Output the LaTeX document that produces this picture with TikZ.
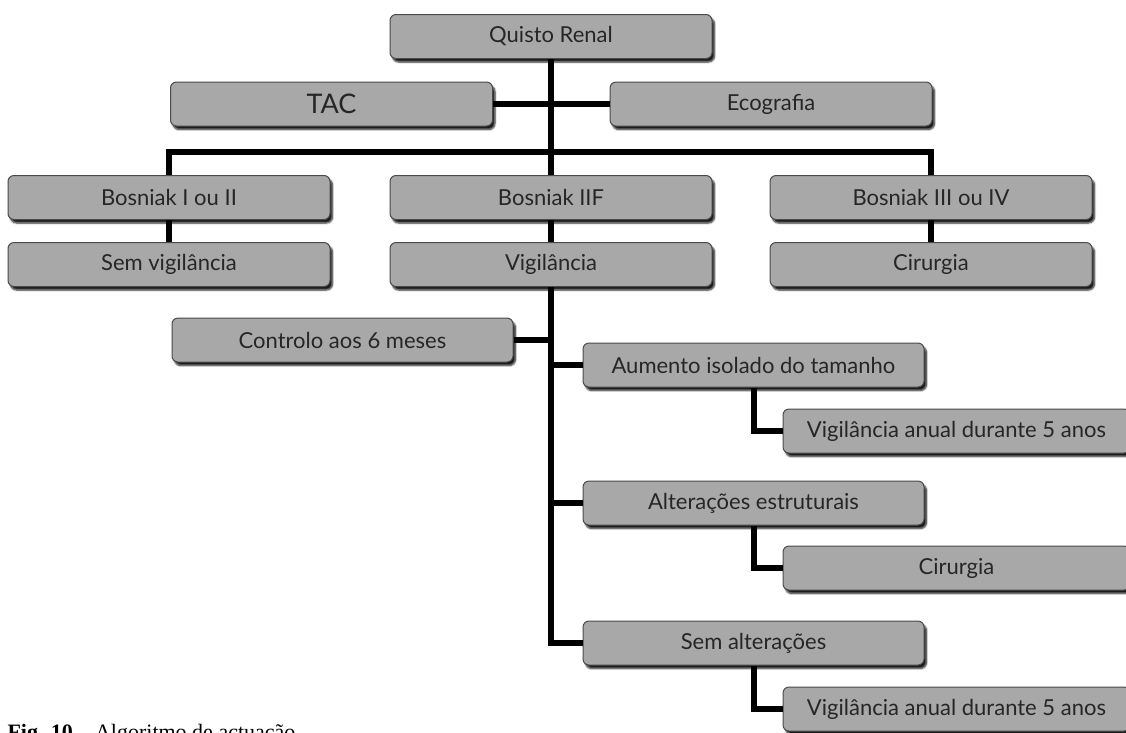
\documentclass[tikz,border=0pt]{standalone}
\usepackage{fontspec}
\setsansfont{Lato}
\newfontfamily\figcapfont{Liberation Serif}
\usetikzlibrary{shadows.blur}

\definecolor{boxgray}{HTML}{A8A8A8}
\definecolor{boxrim}{HTML}{4A4A4A}

\tikzset{
  stepbox/.style={draw=boxrim, line width=1pt, fill=boxgray, rounded corners=6pt,
    minimum width=322pt, minimum height=44pt, inner sep=0pt,
    font=\sffamily\fontsize{22}{25}\selectfont, text=black!85,
    blur shadow={shadow xshift=2.5pt, shadow yshift=-3.5pt, shadow blur steps=6, shadow opacity=90}},
  widebox/.style={stepbox, minimum width=341pt},
  link/.style={line width=6pt, black},
}

\begin{document}
\begin{tikzpicture}[x=1pt, y=-1pt]

    % Page area (the caption runs off the bottom)
    \clip (0,0) rectangle (1126,732);

    % Top of the tree
    \node[stepbox] (quisto) at (551,36.5) {Quisto Renal};
    \node[stepbox, font=\sffamily\fontsize{27}{30}\selectfont] (tac) at (331.5,104) {TAC};
    \node[stepbox] (eco) at (771,104) {Ecografia};

    % Bosniak classes
    \node[stepbox] (bosA) at (169,197.5) {Bosniak I ou II};
    \node[stepbox] (bosB) at (551,197.5) {Bosniak IIF};
    \node[stepbox] (bosC) at (931,197.5) {Bosniak III ou IV};

    % What to do for each class
    \node[stepbox] (semvig) at (169,264.5) {Sem vigilância};
    \node[stepbox] (vig) at (551,264.5) {Vigilância};
    \node[stepbox] (cirA) at (931,264.5) {Cirurgia};

    % Follow-up branch
    \node[widebox] (ctrl) at (342.5,340) {Controlo aos 6 meses};
    \node[widebox] (aum) at (753.5,365) {Aumento isolado do tamanho};
    \node[stepbox, minimum width=347pt] (anualA) at (956.5,431) {Vigilância anual durante 5 anos};
    \node[widebox] (alt) at (753.5,503) {Alterações estruturais};
    \node[stepbox, minimum width=347pt] (cirB) at (956.5,568) {Cirurgia};
    \node[widebox] (semalt) at (753.5,643) {Sem alterações};
    \node[stepbox, minimum width=347pt] (anualB) at (956.5,709) {Vigilância anual durante 5 anos};

    % Caption
    \node[anchor=base west, font=\figcapfont\fontsize{22}{24}\selectfont] (caption) at (4,739)
        {\textbf{Fig. 10 –} Algoritmo de actuação};

    % Connectors
    \coordinate (barL) at (169,152);
    \coordinate (barR) at (931,152);
    \draw[link] (quisto.south) -- (bosB.north);
    \draw[link] (tac.east) -- (eco.west);
    \draw[link] (bosA.north) -- (barL) -- (barR) -- (bosC.north);
    \draw[link] (bosA) -- (semvig);
    \draw[link] (bosB) -- (vig);
    \draw[link] (bosC) -- (cirA);
    \draw[link] (vig.south) |- (semalt.west);
    \draw[link] (ctrl.east) -- (ctrl.east -| vig.south);
    \draw[link] (aum.west) -- (aum.west -| vig.south);
    \draw[link] (alt.west) -- (alt.west -| vig.south);
    \draw[link] (aum.south) |- (anualA.west);
    \draw[link] (alt.south) |- (cirB.west);
    \draw[link] (semalt.south) |- (anualB.west);

\end{tikzpicture}
\end{document}
